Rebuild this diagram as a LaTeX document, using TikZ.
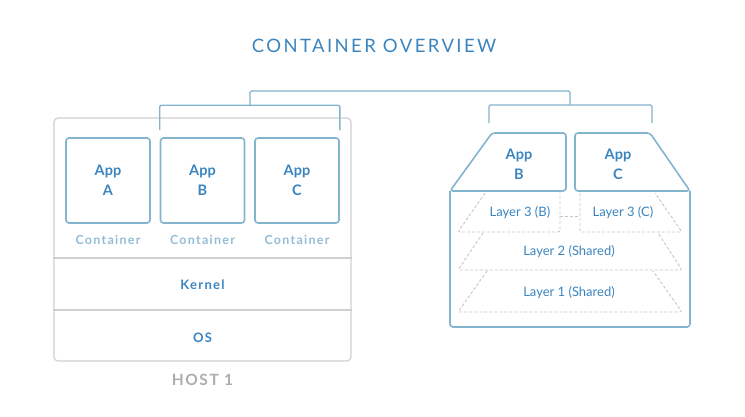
\documentclass[tikz,border=0pt]{standalone}
\usepackage{fontspec}
\setmainfont{Lato}
\newfontfamily\titlefont[LetterSpace=13]{Lato}
\newfontfamily\spacedfont[LetterSpace=10]{Lato Bold}
\definecolor{txtblue}{HTML}{3A85BF}
\definecolor{boxblue}{HTML}{82B4CE}
\definecolor{paleblue}{HTML}{93BDD6}
\definecolor{hostgray}{HTML}{D0D0D0}
\definecolor{hostlabel}{HTML}{ADADAD}
\definecolor{dashgray}{HTML}{C6C6C6}
\begin{document}
\begin{tikzpicture}[x=1pt,y=-1pt,
  appbox/.style={draw=boxblue,line width=1.6pt,rounded corners=3pt,minimum width=84pt,minimum height=85pt,align=center,text=txtblue,font=\fontsize{14.5}{20}\selectfont\bfseries},
  applabel/.style={align=center,text=txtblue,font=\fontsize{14.5}{20}\selectfont\bfseries},
  appline/.style={draw=boxblue,line width=1.6pt,rounded corners=3pt},
  ctlabel/.style={text=paleblue,font=\spacedfont\fontsize{12.5}{14}\selectfont},
  hostline/.style={draw=hostgray,line width=1.2pt},
  layer/.style={draw=dashgray,line width=0.9pt,dash pattern=on 3pt off 2pt,rounded corners=2pt},
  layerlabel/.style={text=txtblue,font=\fontsize{13}{15}\selectfont},
  bracket/.style={draw=boxblue,line width=1.4pt,rounded corners=1.5pt}]
\useasboundingbox (0,0) rectangle (745,416);
\node[text=txtblue,font=\titlefont\fontsize{18.5}{20}\selectfont] (title) at (374,46) {CONTAINER OVERVIEW};
% host 1
\node[hostline,rounded corners=4pt,minimum width=297pt,minimum height=243pt] (host) at (202.5,239.5) {};
\draw[hostline] (host.west |- 0,258) -- (host.east |- 0,258);
\draw[hostline] (host.west |- 0,310) -- (host.east |- 0,310);
\node[appbox] (appA) at (108,180.5) {App\\A};
\node[appbox] (appB) at (202.5,180.5) {App\\B};
\node[appbox] (appC) at (297,180.5) {App\\C};
\node[ctlabel] (ctA) at (108,240) {Container};
\node[ctlabel] (ctB) at (202.5,240) {Container};
\node[ctlabel] (ctC) at (297,240) {Container};
\node[text=txtblue,font=\spacedfont\fontsize{13}{14}\selectfont] (kernel) at (202.5,285) {Kernel};
\node[text=txtblue,font=\spacedfont\fontsize{13}{14}\selectfont] (os) at (202.5,338) {OS};
\node[text=hostlabel,font=\spacedfont\fontsize{15.5}{17}\selectfont] (hostname) at (202.5,380) {HOST 1};
% layered images
\coordinate (imgB) at (492,133);
\coordinate (imgC) at (650,133);
\draw[appline] (450,191) -- (imgB) -- (566,133) -- (566,191) -- cycle;
\draw[appline] (575,191) -- (575,133) -- (imgC) -- (690,191) -- cycle;
\draw[appline] (450,191) -- (450,327) -- (690,327) -- (690,191);
\node[applabel] (appBB) at (519,164) {App\\B};
\node[applabel] (appCC) at (618,164) {App\\C};
\draw[layer] (485,193) -- (458,232) -- (560,232) -- (560,193);
\draw[layer] (580,193) -- (580,232) -- (682,232) -- (655,193);
\draw[layer] (560,216) -- (580,216);
\draw[layer] (483,233) -- (458,270) -- (682,270) -- (658,233);
\draw[layer] (487,271) -- (458,312) -- (682,312) -- (653,271);
\node[layerlabel] (l3b) at (520,213) {Layer 3 (B)};
\node[layerlabel] (l3c) at (623,213) {Layer 3 (C)};
\node[layerlabel] (l2) at (569,252) {Layer 2 (Shared)};
\node[layerlabel] (l1) at (569,293) {Layer 1 (Shared)};
% brackets
\draw[bracket] ([yshift=7pt]appB.north west) -- ++(0,-25) coordinate (leftmid) -| ([yshift=7pt]appC.north east);
\draw[bracket] (489,123) -- ++(0,-18) -| (652,123);
\draw[bracket] (250,106) -- (250,91) -| (570,105);
\end{tikzpicture}
\end{document}
